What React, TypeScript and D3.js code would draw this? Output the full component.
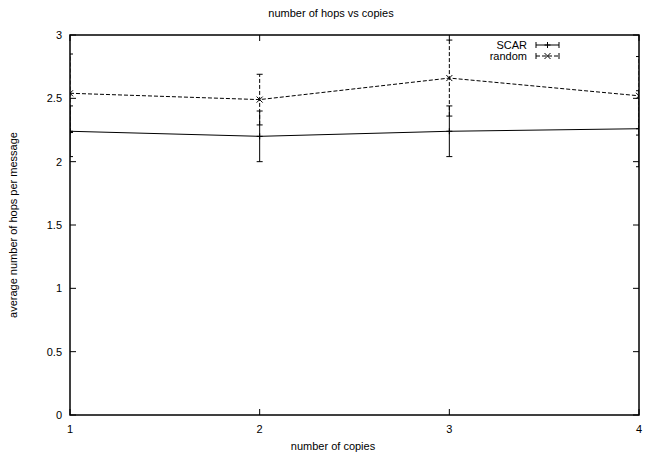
import * as d3 from "d3";
import { useEffect, useRef } from "react";

// number of copies
const copies = [1, 2, 3, 4];
// SCAR: mean hops and error
const scarValues = [2.24, 2.2, 2.24, 2.26];
const scarErrors = [0.2, 0.2, 0.2, 0.3];
// random: mean hops and error
const randomValues = [2.54, 2.49, 2.66, 2.52];
const randomErrors = [0.31, 0.2, 0.3, 0.31];

const yTicks = [0, 0.5, 1, 1.5, 2, 2.5, 3];
const xTicks = [1, 2, 3, 4];

const series = [
  { name: "SCAR", values: scarValues, errors: scarErrors, dash: null, marker: "plus" },
  { name: "random", values: randomValues, errors: randomErrors, dash: "4,2", marker: "cross" },
];

const App = () => {
  const chartRef = useRef(null);

  const width = 658;
  const height = 456;
  const margin = { top: 35, bottom: 41, left: 70, right: 19 };

  useEffect(() => {
    const svg = d3.select(chartRef.current);
    svg.selectAll("*").remove();

    const boundsWidth = width - margin.left - margin.right;
    const boundsHeight = height - margin.top - margin.bottom;

    const scaleX = d3.scaleLinear().domain([1, 4]).range([0, boundsWidth]);
    const scaleY = d3.scaleLinear().domain([0, 3]).range([boundsHeight, 0]);

    const font = "'Liberation Sans', Arial, sans-serif";

    const g = svg.append("g")
      .attr("transform", `translate(${margin.left}, ${margin.top})`);

    // clip for data
    svg.append("defs").append("clipPath").attr("id", "plotclip")
      .append("rect").attr("x", 0).attr("y", 0)
      .attr("width", boundsWidth).attr("height", boundsHeight);

    // ticks y (inside, both sides)
    yTicks.forEach(t => {
      const y = scaleY(t);
      g.append("line").attr("x1", 0).attr("x2", 6).attr("y1", y).attr("y2", y)
        .attr("stroke", "#000").attr("stroke-width", 1);
      g.append("line").attr("x1", boundsWidth - 6).attr("x2", boundsWidth).attr("y1", y).attr("y2", y)
        .attr("stroke", "#000").attr("stroke-width", 1);
      g.append("text").attr("x", -8).attr("y", y).attr("dy", "0.35em")
        .attr("text-anchor", "end").style("font-family", font).style("font-size", "11px")
        .text(d3.format("")(t));
    });

    // ticks x
    xTicks.forEach(t => {
      const x = scaleX(t);
      g.append("line").attr("x1", x).attr("x2", x).attr("y1", boundsHeight).attr("y2", boundsHeight - 6)
        .attr("stroke", "#000");
      g.append("line").attr("x1", x).attr("x2", x).attr("y1", 0).attr("y2", 6)
        .attr("stroke", "#000");
      g.append("text").attr("x", x).attr("y", boundsHeight + 18)
        .attr("text-anchor", "middle").style("font-family", font).style("font-size", "11px")
        .text(t);
    });

    // border
    g.append("rect").attr("x", 0).attr("y", 0).attr("width", boundsWidth).attr("height", boundsHeight)
      .attr("fill", "none").attr("stroke", "#000").attr("stroke-width", 1.5);

    const data = g.append("g").attr("clip-path", "url(#plotclip)");

    const drawMarker = (sel, x, y, type) => {
      const s = 3;
      if (type === "plus") {
        sel.append("path").attr("d", `M${x - s},${y}H${x + s}M${x},${y - s}V${y + s}`)
          .attr("stroke", "#000").attr("fill", "none");
      } else {
        sel.append("path").attr("d", `M${x - s},${y - s}L${x + s},${y + s}M${x - s},${y + s}L${x + s},${y - s}`)
          .attr("stroke", "#000").attr("fill", "none");
      }
    };

    const line = d3.line<number>()
      .x((d, i) => scaleX(copies[i]))
      .y(d => scaleY(d));

    series.forEach(s => {
      data.append("path").datum(s.values).attr("d", line)
        .attr("fill", "none").attr("stroke", "#000").attr("stroke-width", 1)
        .attr("stroke-dasharray", s.dash);

      s.values.forEach((v, i) => {
        const x = scaleX(copies[i]);
        const y0 = scaleY(v - s.errors[i]);
        const y1 = scaleY(v + s.errors[i]);
        data.append("line").attr("x1", x).attr("x2", x).attr("y1", y0).attr("y2", y1)
          .attr("stroke", "#000").attr("stroke-dasharray", s.dash);
        [y0, y1].forEach(yy => {
          data.append("line").attr("x1", x - 3).attr("x2", x + 3).attr("y1", yy).attr("y2", yy)
            .attr("stroke", "#000");
        });
        drawMarker(data, x, scaleY(v), s.marker);
      });
    });

    // legend
    series.forEach((s, i) => {
      const ly = 10 + i * 11;
      const lx = 466;
      g.append("text").attr("x", lx - 9).attr("y", ly).attr("dy", "0.35em")
        .attr("text-anchor", "end").style("font-family", font).style("font-size", "11px")
        .text(s.name);
      g.append("line").attr("x1", lx).attr("x2", lx + 23).attr("y1", ly).attr("y2", ly)
        .attr("stroke", "#000").attr("stroke-dasharray", s.dash);
      [lx, lx + 23].forEach(xx => {
        g.append("line").attr("x1", xx).attr("x2", xx).attr("y1", ly - 3).attr("y2", ly + 3)
          .attr("stroke", "#000");
      });
      drawMarker(g, lx + 11.5, ly, s.marker);
    });

    // title and axis labels
    svg.append("text").attr("x", 331).attr("y", 17).attr("text-anchor", "middle")
      .style("font-family", font).style("font-size", "11px").text("number of hops vs copies");
    svg.append("text").attr("x", 333).attr("y", 450).attr("text-anchor", "middle")
      .style("font-family", font).style("font-size", "11px").text("number of copies");
    svg.append("text").attr("transform", `translate(17, 225) rotate(-90)`).attr("text-anchor", "middle")
      .style("font-family", font).style("font-size", "11px").text("average number of hops per message");
  }, []);

  return (
    <svg ref={chartRef} width={width} height={height}
      style={{ position: "absolute", left: 0, top: 0, background: "#fff" }}></svg>
  );
};

export default App;
